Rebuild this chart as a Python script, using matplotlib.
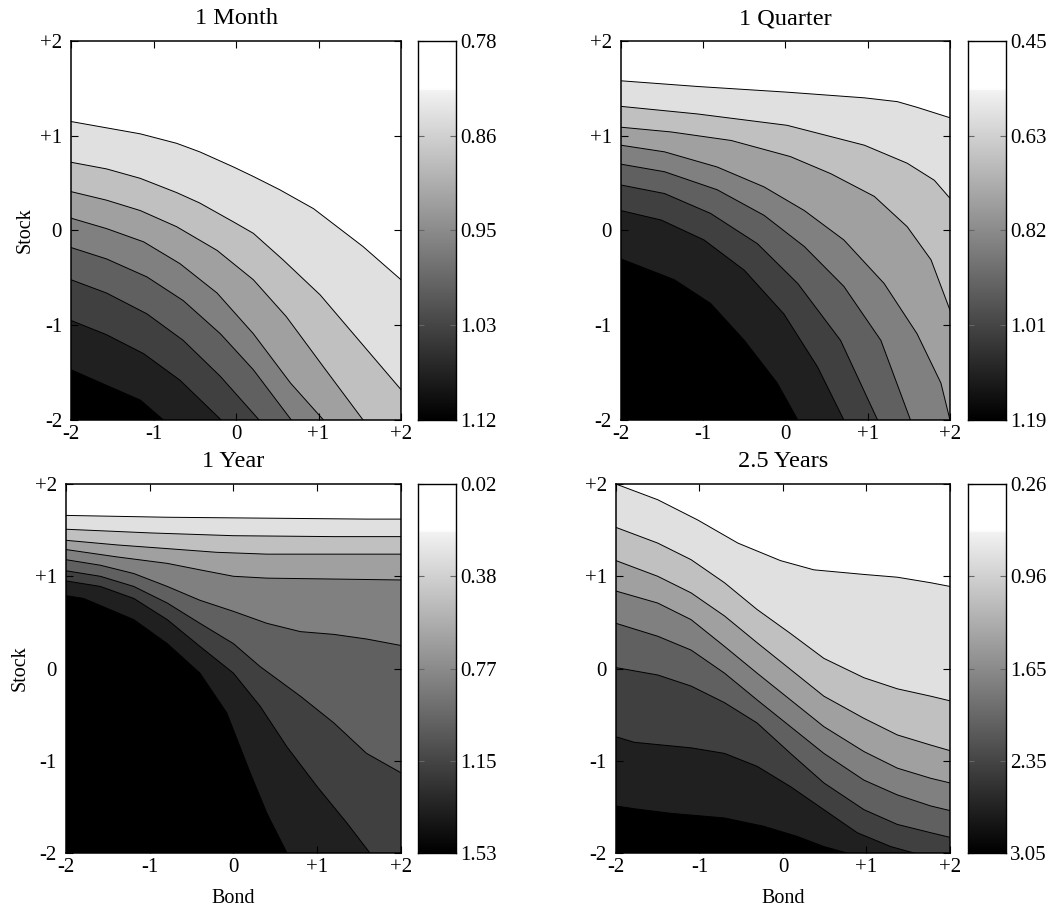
import numpy as np
import matplotlib
matplotlib.use("Agg")
from matplotlib import pyplot as plt
from matplotlib.colors import LinearSegmentedColormap

plt.rcParams['font.family'] = ['Liberation Serif', 'DejaVu Serif']

titles = ["1 Month", "1 Quarter", "1 Year", "2.5 Years"]
tick_vals = [-2, -1, 0, 1, 2]
tick_text = ["-2", "-1", "0", "+1", "+2"]
cbar_labels = [
    ["0.78", "0.86", "0.95", "1.03", "1.12"],
    ["0.45", "0.63", "0.82", "1.01", "1.19"],
    ["0.02", "0.38", "0.77", "1.15", "1.53"],
    ["0.26", "0.96", "1.65", "2.35", "3.05"],
]
# gray of each band, from the top (lowest value) band to the bottom one
band_grays = [1.0, 0.878, 0.753, 0.627, 0.502, 0.376, 0.251, 0.125, 0.0]

# contour lines: bond (x) and stock (y) for each line,
# ordered from the lightest boundary to the darkest
month_x = [
    [-2, -1.16, -0.72, -0.44, -0.03, 0.21, 0.53, 0.94, 1.18, 1.54, 2],
    [-2, -1.57, -1.16, -0.72, -0.44, -0.03, 0.21, 0.57, 1.02, 1.50, 2],
    [-2, -1.57, -1.16, -0.72, -0.23, 0.21, 0.61, 1.06, 1.54],
    [-2, -1.57, -1.12, -0.68, -0.23, 0.21, 0.66, 1.06],
    [-2, -1.57, -1.08, -0.64, -0.19, 0.21, 0.67],
    [-2, -1.57, -1.08, -0.64, -0.19, 0.28],
    [-2, -1.57, -1.12, -0.68, -0.18],
    [-2, -1.53, -1.16, -0.88],
]
month_y = [
    [1.15, 1.02, 0.92, 0.83, 0.67, 0.57, 0.43, 0.23, 0.07, -0.17, -0.52],
    [0.72, 0.65, 0.55, 0.40, 0.29, 0.09, -0.03, -0.31, -0.68, -1.17, -1.68],
    [0.41, 0.32, 0.21, 0.04, -0.21, -0.52, -0.91, -1.44, -2],
    [0.13, 0.02, -0.12, -0.35, -0.66, -1.09, -1.61, -2],
    [-0.18, -0.30, -0.49, -0.74, -1.09, -1.47, -2],
    [-0.52, -0.66, -0.88, -1.16, -1.54, -2],
    [-0.95, -1.10, -1.30, -1.58, -2],
    [-1.47, -1.65, -1.79, -2],
]

quarter_x = [
    [-2, -1.07, 0.02, 0.96, 1.36, 1.60, 2],
    [-2, -1.07, 0.02, 0.96, 1.48, 1.81, 2],
    [-2, -1.39, -0.66, 0.06, 0.55, 1.08, 1.48, 1.77, 2],
    [-2, -1.47, -0.83, -0.26, 0.23, 0.71, 1.20, 1.60, 1.89, 2],
    [-2, -1.47, -0.83, -0.26, 0.23, 0.71, 1.16, 1.52],
    [-2, -1.47, -0.91, -0.34, 0.15, 0.67, 1.12],
    [-2, -1.51, -0.99, -0.50, -0.02, 0.39, 0.71],
    [-2, -1.35, -0.91, -0.50, -0.10, 0.15],
]
quarter_y = [
    [1.58, 1.52, 1.46, 1.40, 1.36, 1.30, 1.19],
    [1.31, 1.23, 1.11, 0.90, 0.71, 0.53, 0.34],
    [1.09, 1.04, 0.95, 0.78, 0.60, 0.36, 0.04, -0.31, -0.84],
    [0.90, 0.83, 0.67, 0.46, 0.21, -0.10, -0.56, -1.09, -1.61, -2],
    [0.70, 0.62, 0.43, 0.16, -0.17, -0.59, -1.16, -2],
    [0.48, 0.39, 0.18, -0.14, -0.56, -1.16, -2],
    [0.21, 0.11, -0.10, -0.42, -0.88, -1.44, -2],
    [-0.30, -0.52, -0.77, -1.16, -1.61, -2],
]

year_x = [
    [-2, -0.79, 0.40, 1.59, 2],
    [-2, -0.99, 0.0, 1.20, 2],
    [-2, -1.39, -0.79, -0.20, 0.40, 2],
    [-2, -1.39, -0.79, -0.40, 0.0, 0.40, 2],
    [-2, -1.59, -1.19, -0.79, -0.40, 0.0, 0.40, 0.80, 1.20, 1.59, 2],
    [-2, -1.59, -1.19, -0.79, -0.40, 0.0, 0.32, 0.80, 1.20, 1.59, 2],
    [-2, -1.59, -1.19, -0.79, -0.40, 0.0, 0.32, 0.64, 1.0, 1.36, 1.63],
    [-2, -1.79, -1.19, -0.79, -0.40, -0.08, 0.20, 0.40, 0.64],
]
year_y = [
    [1.66, 1.64, 1.63, 1.62, 1.62],
    [1.51, 1.47, 1.44, 1.43, 1.43],
    [1.39, 1.34, 1.30, 1.26, 1.24, 1.24],
    [1.29, 1.21, 1.14, 1.07, 1.00, 0.98, 0.96],
    [1.18, 1.12, 1.03, 0.89, 0.74, 0.62, 0.49, 0.40, 0.37, 0.32, 0.25],
    [1.06, 1.00, 0.89, 0.71, 0.49, 0.27, 0.02, -0.30, -0.59, -0.92, -1.13],
    [0.95, 0.89, 0.76, 0.53, 0.24, -0.05, -0.41, -0.85, -1.28, -1.68, -2],
    [0.79, 0.76, 0.53, 0.27, -0.05, -0.48, -1.13, -1.57, -2],
]

years_x = [
    [-2, -1.50, -1.02, -0.54, -0.03, 0.37, 0.97, 1.37, 1.77, 2],
    [-2, -1.50, -1.10, -0.70, -0.31, 0.09, 0.49, 0.97, 1.37, 1.77, 2],
    [-2, -1.50, -1.10, -0.70, -0.31, 0.09, 0.49, 0.97, 1.37, 1.77, 2],
    [-2, -1.50, -1.10, -0.70, -0.31, 0.09, 0.49, 0.97, 1.37, 1.77, 2],
    [-2, -1.50, -1.10, -0.70, -0.31, 0.09, 0.49, 0.97, 1.37, 1.77, 2],
    [-2, -1.50, -1.10, -0.70, -0.31, 0.09, 0.49, 0.97, 1.37, 1.77, 2],
    [-2, -1.78, -1.10, -0.70, -0.31, 0.09, 0.49, 0.89, 1.29, 1.57],
    [-2, -1.78, -1.34, -0.70, -0.23, 0.17, 0.49, 0.77],
]
years_y = [
    [2.0, 1.83, 1.61, 1.36, 1.17, 1.07, 1.02, 0.99, 0.93, 0.89],
    [1.53, 1.36, 1.18, 0.93, 0.64, 0.38, 0.11, -0.10, -0.22, -0.30, -0.35],
    [1.17, 1.00, 0.82, 0.57, 0.28, -0.01, -0.30, -0.54, -0.72, -0.83, -0.89],
    [0.84, 0.71, 0.53, 0.24, -0.05, -0.34, -0.63, -0.90, -1.08, -1.19, -1.24],
    [0.49, 0.35, 0.20, -0.05, -0.34, -0.63, -0.92, -1.21, -1.37, -1.49, -1.54],
    [0.01, -0.07, -0.19, -0.37, -0.59, -0.92, -1.24, -1.53, -1.69, -1.78, -1.83],
    [-0.74, -0.80, -0.86, -0.92, -1.06, -1.28, -1.53, -1.78, -1.93, -2],
    [-1.49, -1.52, -1.57, -1.62, -1.71, -1.82, -1.93, -2],
]

panels_x = [month_x, quarter_x, year_x, years_x]
panels_y = [month_y, quarter_y, year_y, years_y]

# axes boxes in figure fractions: [left, bottom, width, height]
ax_boxes = [
    [0.0669, 0.5380, 0.3107, 0.4169],
    [0.5847, 0.5380, 0.3098, 0.4169],
    [0.0621, 0.0616, 0.3154, 0.4059],
    [0.5800, 0.0616, 0.3145, 0.4059],
]
cbar_left = [0.3936, 0.9115, 0.3936, 0.9115]

cmap = LinearSegmentedColormap.from_list(
    "bar", [(0, (0, 0, 0)), (0.87, (0.95, 0.95, 0.95)), (0.875, (1, 1, 1)), (1, (1, 1, 1))])

fig = plt.figure(figsize=(10.62, 9.09), dpi=100)

for i in range(4):
    box = ax_boxes[i]
    ax = fig.add_axes(box)
    ax.set_facecolor(str(band_grays[0]))
    xs = panels_x[i]
    ys = panels_y[i]
    # paint the region under each line with the band colour below it
    for k in range(len(xs)):
        px = list(xs[k]) + [xs[k][-1], -2]
        py = list(ys[k]) + [-2, -2]
        ax.fill(px, py, color=str(band_grays[k + 1]), lw=0, zorder=1)
    for k in range(len(xs)):
        ax.plot(xs[k], ys[k], color='black', lw=0.7, zorder=2)
    ax.set_xlim(-2, 2)
    ax.set_ylim(-2, 2)
    ax.set_xticks(tick_vals)
    ax.set_xticklabels(tick_text)
    ax.set_yticks(tick_vals)
    ax.set_yticklabels(tick_text)
    ax.tick_params(direction='in', top=True, right=True, length=5, labelsize=15)
    ax.tick_params(axis='x', pad=3.5)
    ax.tick_params(axis='y', pad=6.5)
    for s in ax.spines.values():
        s.set_linewidth(1.1)
        s.set_zorder(5)
    ax.set_title(titles[i], fontsize=17.5, pad=12)
    if i % 2 == 0:
        ax.set_ylabel("Stock", fontsize=14.5, labelpad=4)
    if i >= 2:
        ax.set_xlabel("Bond", fontsize=14.5, labelpad=9)

    # colour bar
    cax = fig.add_axes([cbar_left[i], box[1], 0.0358, box[3]])
    grad = np.linspace(1, 0, 256).reshape(-1, 1)
    cax.imshow(grad, cmap=cmap, aspect='auto', extent=[0, 1, 1, 0], vmin=0, vmax=1)
    cax.set_xlim(0, 1)
    cax.set_ylim(1, 0)
    cax.set_xticks([])
    cax.set_yticks(np.linspace(0, 1, 5))
    cax.set_yticklabels(cbar_labels[i])
    cax.yaxis.tick_right()
    cax.tick_params(axis='y', direction='in', left=True, right=True, length=4,
                    labelsize=15, pad=3, color='0.4')
    for s in cax.spines.values():
        s.set_linewidth(1.0)

fig.savefig("out.png", dpi=100, facecolor='white')
